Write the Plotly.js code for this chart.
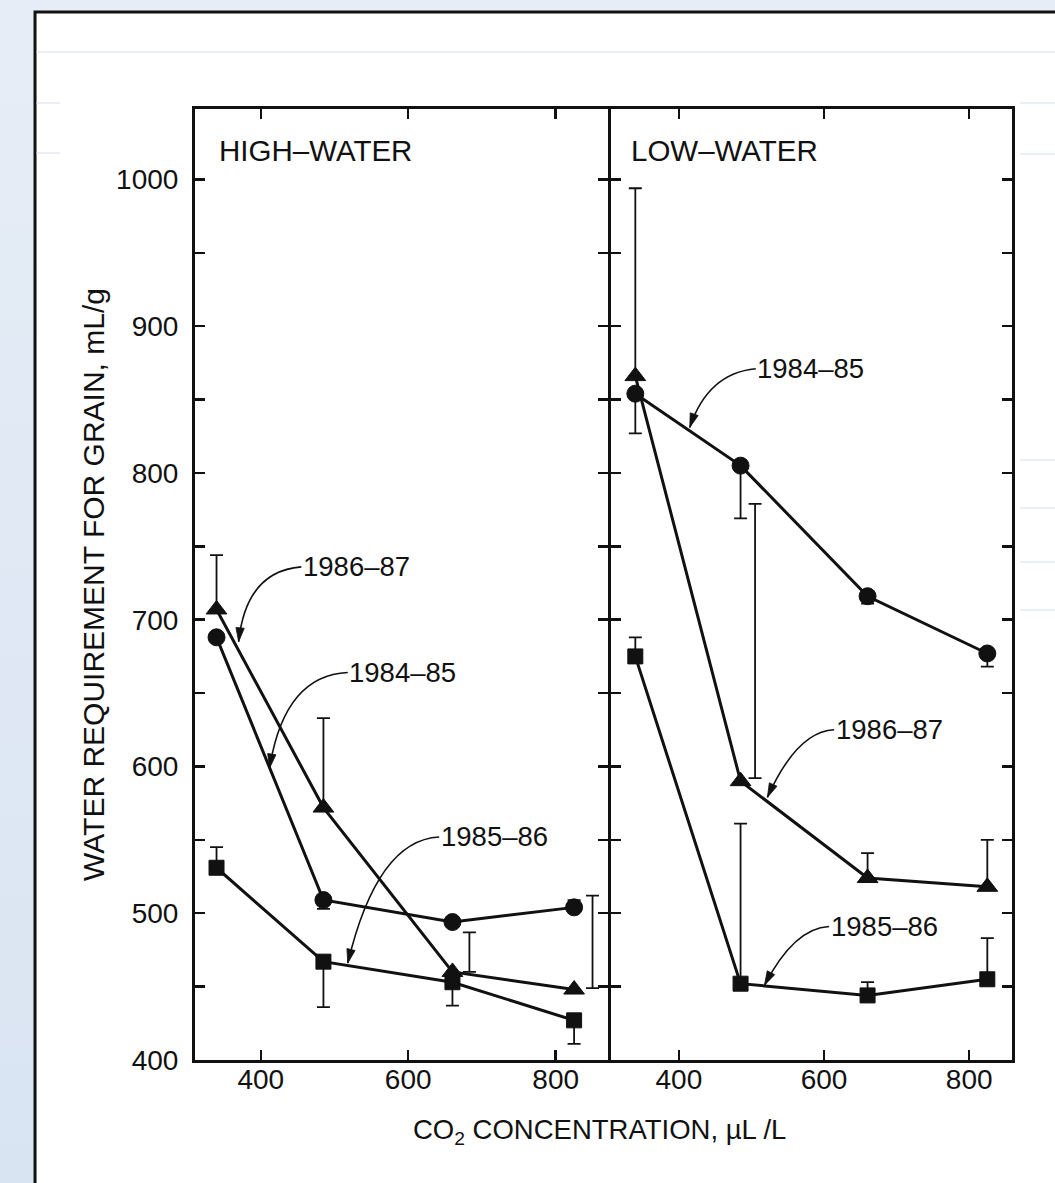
<!DOCTYPE html>
<html><head><meta charset="utf-8">
<script src="https://cdn.plot.ly/plotly-3.0.1.min.js"></script>
<style>
html,body{margin:0;padding:0;background:linear-gradient(#e6edf6,#d9e4f2);}
#chart{width:1055px;height:1183px;}
</style>
</head><body><div id="chart"></div>
<script>
// ---------------- data ----------------
const co2 = [340, 485, 660, 825];
const panelNames = ['HIGH–WATER', 'LOW–WATER'];
const seasons = ['1984–85', '1985–86', '1986–87'];
const xTickVals = [400, 600, 800];
const yTickVals = [400, 500, 600, 700, 800, 900, 1000];

// HIGH-WATER panel
const high8485 = [688, 509, 494, 504];
const high8586 = [531, 467, 453, 427];
const high8687 = [707, 572, 460, 448];
const high8485Up = [NaN, NaN, NaN, 5];
const high8485Down = [NaN, 6, NaN, NaN];
const high8586Up = [14, NaN, NaN, NaN];
const high8586Down = [NaN, 31, 16, 16];
const high8687Up = [37, 61, NaN, NaN];
const high8687Down = [NaN, NaN, NaN, NaN];
// error bars drawn beside the points
const highSideCo2 = [683, 850];
const highSideBase = [460, 449];
const highSideUp = [27, 63];

// LOW-WATER panel
const low8485 = [854, 805, 716, 677];
const low8586 = [675, 452, 444, 455];
const low8687 = [866, 590, 524, 518];
const low8485Up = [NaN, NaN, NaN, NaN];
const low8485Down = [27, 36, 5, 9];
const low8586Up = [13, 109, 9, 28];
const low8586Down = [NaN, NaN, NaN, NaN];
const low8687Up = [128, NaN, 17, 32];
const low8687Down = [NaN, NaN, NaN, NaN];
const lowSideCo2 = [505];
const lowSideBase = [592];
const lowSideUp = [187];

// ---------------- styling / positions ----------------
const FONT = '"Liberation Sans", Arial, Helvetica, sans-serif';
const INK = '#111';
const symbols = {'1984–85': 'circle', '1985–86': 'square', '1986–87': 'triangle-up'};
const msize = {'circle': 17, 'square': 15, 'triangle-up': 18};

const W = 1055, H = 1183;
const M = {l: 195, r: 43, t: 109, b: 123};
const plotW = W - M.l - M.r, plotH = H - M.t - M.b;
const xDom1 = [0, (607.5 - M.l) / plotW], xDom2 = [(610.5 - M.l) / plotW, 1];
const xRange1 = [310.8, 870.3], xRange2 = [305.8, 859];
const yRange = [400, 1048];

function series(x, y, up, down, season, xa, ya) {
  const sym = symbols[season];
  return {
    x: x, y: y, xaxis: xa, yaxis: ya, type: 'scatter', mode: 'lines+markers',
    name: season, showlegend: false, hoverinfo: 'skip',
    line: {color: INK, width: 3},
    marker: {symbol: sym, size: msize[sym], color: INK, line: {color: INK, width: 1}},
    error_y: {type: 'data', symmetric: false, array: up, arrayminus: down,
              color: INK, thickness: 1.8, width: 6.5}
  };
}
function sideBars(x, base, up, xa, ya) {
  return {
    x: x, y: base, xaxis: xa, yaxis: ya, type: 'scatter', mode: 'markers',
    showlegend: false, hoverinfo: 'skip',
    marker: {size: 1, color: 'rgba(0,0,0,0)'},
    error_y: {type: 'data', symmetric: false, array: up, arrayminus: up.map(() => 0),
              color: INK, thickness: 1.8, width: 6.5}
  };
}

const traces = [
  sideBars(highSideCo2, highSideBase, highSideUp, 'x', 'y'),
  series(co2, high8485, high8485Up, high8485Down, seasons[0], 'x', 'y'),
  series(co2, high8586, high8586Up, high8586Down, seasons[1], 'x', 'y'),
  series(co2, high8687, high8687Up, high8687Down, seasons[2], 'x', 'y'),
  sideBars(lowSideCo2, lowSideBase, lowSideUp, 'x2', 'y2'),
  series(co2, low8485, low8485Up, low8485Down, seasons[0], 'x2', 'y2'),
  series(co2, low8586, low8586Up, low8586Down, seasons[1], 'x2', 'y2'),
  series(co2, low8687, low8687Up, low8687Down, seasons[2], 'x2', 'y2')
];

// label placement: [season, axis suffix, text x, text y, ctrl x, ctrl y, tip x, tip y]
const labelSpots = [
  [seasons[2], '',  457, 736, 380, 733, 370, 685],
  [seasons[0], '',  520, 664, 432, 662, 412, 599],
  [seasons[1], '',  644, 552, 558, 550, 518, 466],
  [seasons[0], '2', 508, 871, 440, 868, 415, 831],
  [seasons[2], '2', 616, 625, 563, 624, 522, 579],
  [seasons[1], '2', 609, 491, 559, 490, 518, 451]
];

const annotations = [];
const shapes = [];

// slide card + faint rules
shapes.push({type: 'rect', xref: 'paper', yref: 'paper', x0: -0.1958, x1: 1.1, y0: -0.2, y1: 1.102,
             fillcolor: 'white', line: {color: INK, width: 3}, layer: 'below'});
const faint = {color: '#e3e8f2', width: 1.5};
shapes.push({type: 'line', xref: 'paper', yref: 'paper', x0: -0.194, x1: 1.1, y0: 1.0599, y1: 1.0599, line: faint, layer: 'below'});
[1.0063, 0.9537].forEach(v => shapes.push({type: 'line', xref: 'paper', yref: 'paper', x0: -0.194, x1: -0.165, y0: v, y1: v, line: faint, layer: 'below'}));
[1.0063, 0.9527, 0.6309, 0.5804, 0.5237, 0.4732].forEach(v => shapes.push({type: 'line', xref: 'paper', yref: 'paper', x0: 1.0098, x1: 1.1, y0: v, y1: v, line: faint, layer: 'below'}));

labelSpots.forEach(s => {
  const [txt, ax, tx, ty, cx, cy, px, py] = s;
  const xr = ax === '2' ? xRange2 : xRange1;
  const xd = ax === '2' ? xDom2 : xDom1;
  const sx = plotW * (xd[1] - xd[0]) / (xr[1] - xr[0]);   // px per x unit
  const sy = plotH / (yRange[1] - yRange[0]);               // px per y unit (up)
  annotations.push({text: txt, x: tx, y: ty, xref: 'x' + ax, yref: 'y' + ax, xanchor: 'left', yanchor: 'middle',
                    showarrow: false, font: {family: FONT, size: 27.5, color: INK}, xshift: -2});
  shapes.push({type: 'path', xref: 'x' + ax, yref: 'y' + ax,
               path: `M${tx - 2},${ty} Q${cx},${cy} ${px},${py}`, line: {color: INK, width: 1.6}});
  // arrow head: small filled triangle pointing along the end tangent (control -> tip)
  let dx = (cx - px) * sx, dy = (cy - py) * sy;
  const len = Math.hypot(dx, dy); dx /= len; dy /= len;
  const L = 14, hw = 4.2;
  const bx = dx * L, by = dy * L;
  const p1 = [bx - dy * hw, by + dx * hw], p2 = [bx + dy * hw, by - dx * hw];
  shapes.push({type: 'path', xref: 'x' + ax, yref: 'y' + ax, xsizemode: 'pixel', ysizemode: 'pixel',
               xanchor: px, yanchor: py,
               path: `M0,0 L${p1[0].toFixed(2)},${p1[1].toFixed(2)} L${p2[0].toFixed(2)},${p2[1].toFixed(2)} Z`,
               fillcolor: INK, line: {color: INK, width: 0.8}});
});

annotations.push({text: panelNames[0], x: 341, y: 1020, xref: 'x', yref: 'y', xanchor: 'left', yanchor: 'middle',
                  showarrow: false, font: {family: FONT, size: 29.5, color: INK}});
annotations.push({text: panelNames[1], x: 331, y: 1020, xref: 'x2', yref: 'y2', xanchor: 'left', yanchor: 'middle',
                  showarrow: false, font: {family: FONT, size: 29.5, color: INK}});
annotations.push({text: 'CO<sub>2</sub> CONCENTRATION, µL /L', x: (599 - M.l) / plotW, y: (1060 - 1131) / plotH,
                  xref: 'paper', yref: 'paper', xanchor: 'center', yanchor: 'middle', showarrow: false,
                  font: {family: FONT, size: 27.5, color: INK}});

const xBase = {
  tickvals: xTickVals, ticks: 'inside', ticklen: 10, tickwidth: 2.5, tickcolor: INK,
  showline: true, linewidth: 3, linecolor: INK, mirror: 'ticks', showgrid: false, zeroline: false,
  tickfont: {family: FONT, size: 28, color: INK}, ticklabelstandoff: -8, fixedrange: true
};
const yBase = {
  range: yRange, tickvals: yTickVals, ticks: 'inside', ticklen: 10, tickwidth: 2.5, tickcolor: INK,
  minor: {dtick: 50, tick0: 0, ticks: 'inside', ticklen: 10, tickwidth: 2.5, tickcolor: INK},
  showline: true, linewidth: 3, linecolor: INK, mirror: 'ticks', showgrid: false, zeroline: false,
  tickfont: {family: FONT, size: 28, color: INK}, ticklabelstandoff: 8, fixedrange: true
};

const layout = {
  width: W, height: H, margin: M,
  paper_bgcolor: 'rgba(0,0,0,0)', plot_bgcolor: 'rgba(0,0,0,0)',
  showlegend: false,
  xaxis: Object.assign({}, xBase, {domain: xDom1, range: xRange1, anchor: 'y'}),
  xaxis2: Object.assign({}, xBase, {domain: xDom2, range: xRange2, anchor: 'y2'}),
  yaxis: Object.assign({}, yBase, {domain: [0, 1], anchor: 'x',
    title: {text: 'WATER REQUIREMENT FOR GRAIN, mL/g', font: {family: FONT, size: 30, color: INK}, standoff: 3}}),
  yaxis2: Object.assign({}, yBase, {domain: [0, 1], anchor: 'x2', matches: 'y', showticklabels: false}),
  annotations: annotations,
  shapes: shapes
};

Plotly.newPlot('chart', traces, layout, {displayModeBar: false, staticPlot: true});
</script>
</body></html>
